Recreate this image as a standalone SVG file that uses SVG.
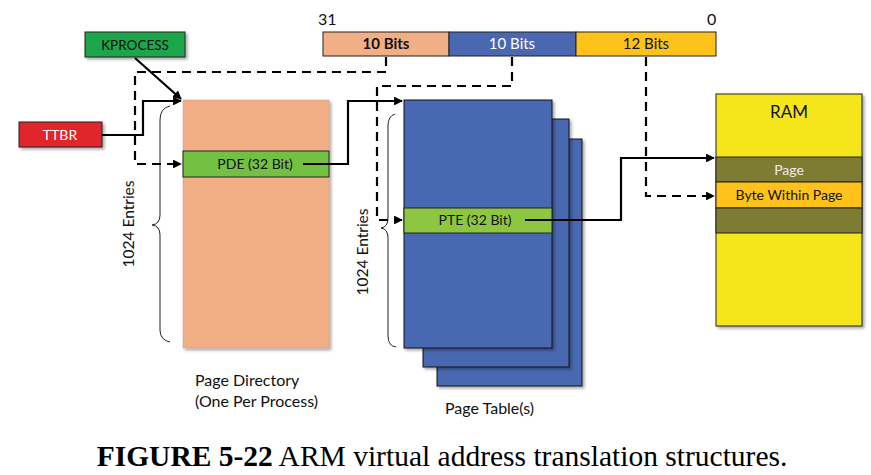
<svg xmlns="http://www.w3.org/2000/svg" width="871" height="475" viewBox="0 0 871 475">
<defs>
<marker id="ah" viewBox="0 0 10 10" refX="9" refY="5" markerWidth="4" markerHeight="4" orient="auto"><path d="M0,0 L10,5 L0,10 z" fill="#000"/></marker>
<filter id="sh" x="-10%" y="-10%" width="130%" height="130%"><feDropShadow dx="2" dy="2" stdDeviation="1.5" flood-color="#000" flood-opacity="0.35"/></filter>
</defs>
<style>
.t{font-family:Lato,"Liberation Sans",sans-serif;font-size:14px;fill:#111}
.w{font-family:Lato,"Liberation Sans",sans-serif;font-size:14px;fill:#fff}
.box{stroke:#222;stroke-width:1}
.sol{fill:none;stroke:#000;stroke-width:2.2}
.das{fill:none;stroke:#000;stroke-width:2.2;stroke-dasharray:9,6}
.br{fill:none;stroke:#222;stroke-width:1}
</style>
<rect width="871" height="475" fill="#fff"/>

<g id="address">
<text class="t" x="318" y="25" style="font-size:16px">31</text>
<text class="t" x="707" y="25" style="font-size:16px">0</text>
<rect x="323" y="32" width="126" height="24" fill="#F2AE84" class="box"/>
<rect x="449" y="32" width="127" height="24" fill="#4A67B2" class="box"/>
<rect x="576" y="32" width="140" height="24" fill="#FFC21A" class="box"/>
<text class="t" x="386" y="49" text-anchor="middle" style="font-size:15px;font-weight:bold">10 Bits</text>
<text class="w" x="512" y="49" text-anchor="middle" style="font-size:15px">10 Bits</text>
<text class="t" x="646" y="49" text-anchor="middle" style="font-size:15px">12 Bits</text>
</g>

<g id="kprocess">
<rect x="85" y="32" width="100" height="25" fill="#1FA64C" class="box" filter="url(#sh)"/>
<text class="t" x="135" y="50" text-anchor="middle" style="font-size:13.5px">KPROCESS</text>
</g>

<g id="ttbr">
<rect x="19" y="122" width="83" height="25" fill="#E0262B" class="box" filter="url(#sh)"/>
<text class="w" x="60" y="140" text-anchor="middle">TTBR</text>
</g>

<g id="pagedir">
<rect x="183" y="100" width="146" height="248" fill="#F2AE84" stroke="#c99" stroke-width="0.5" filter="url(#sh)"/>
<rect x="183" y="151" width="146" height="26" fill="#73C043" class="box"/>
<text class="t" x="255" y="169" text-anchor="middle">PDE (32 Bit)</text>
<text class="t" x="195" y="386" style="font-size:16px">Page Directory</text>
<text class="t" x="195" y="407" style="font-size:16px">(One Per Process)</text>
</g>

<g id="pagetables">
<rect x="437" y="139" width="145" height="247" fill="#4A67B2" stroke="#111" stroke-width="1" filter="url(#sh)"/>
<rect x="423" y="119" width="146" height="248" fill="#4A67B2" stroke="#111" stroke-width="1" filter="url(#sh)"/>
<rect x="404" y="100" width="148" height="248" fill="#4A67B2" stroke="#111" stroke-width="1" filter="url(#sh)"/>
<rect x="404" y="208" width="148" height="25" fill="#8DC63F" class="box"/>
<text class="t" x="475" y="225" text-anchor="middle">PTE (32 Bit)</text>
<text class="t" x="445" y="414" style="font-size:16px">Page Table(s)</text>
</g>

<g id="ram">
<rect x="716" y="94" width="146" height="232" fill="#F5E61E" class="box" filter="url(#sh)"/>
<rect x="716" y="157" width="146" height="25" fill="#7E7B32" class="box"/>
<rect x="716" y="182" width="146" height="26" fill="#FFC21A" class="box"/>
<rect x="716" y="208" width="146" height="25" fill="#7E7B32" class="box"/>
<text class="t" x="789" y="118" text-anchor="middle" style="font-size:17px">RAM</text>
<text class="w" x="789" y="175" text-anchor="middle" style="fill:#eee">Page</text>
<text class="t" x="789" y="200" text-anchor="middle">Byte Within Page</text>
</g>

<g id="braces">
<path class="br" d="M170,106 Q160,108 160,120 L160,215 Q160,224 152,225 Q160,226 160,235 L160,330 Q160,340 170,342"/>
<text class="t" x="0" y="0" text-anchor="middle" style="font-size:15.5px" transform="translate(134,224) rotate(-90)">1024 Entries</text>
<path class="br" d="M395,114 Q388,116 388,126 L388,218 Q388,227 381,228 Q388,229 388,238 L388,336 Q388,346 396,347"/>
<text class="t" x="0" y="0" text-anchor="middle" style="font-size:15.5px" transform="translate(368,252) rotate(-90)">1024 Entries</text>
</g>

<g id="connectors">
<path class="sol" d="M135,58 L181,99" marker-end="url(#ah)"/>
<path class="sol" d="M102,135 L143,135 L143,101 L181,101" marker-end="url(#ah)"/>
<path class="sol" d="M303,164 L348,164 L348,101 L402,101" marker-end="url(#ah)"/>
<path class="sol" d="M525,220 L621,220 L621,158 L714,158" marker-end="url(#ah)"/>
<path class="das" d="M386,57 L386,72 L135,72 L135,164 L181,164" marker-end="url(#ah)"/>
<path class="das" d="M512,57 L512,86 L377,86 L377,220 L402,220" marker-end="url(#ah)"/>
<path class="das" d="M646,57 L646,196 L714,196" marker-end="url(#ah)"/>
</g>

<text x="442" y="466" text-anchor="middle" font-family="'Liberation Serif',serif" font-size="29.5" fill="#000"><tspan font-weight="bold">FIGURE 5-22</tspan> ARM virtual address translation structures.</text>
</svg>
